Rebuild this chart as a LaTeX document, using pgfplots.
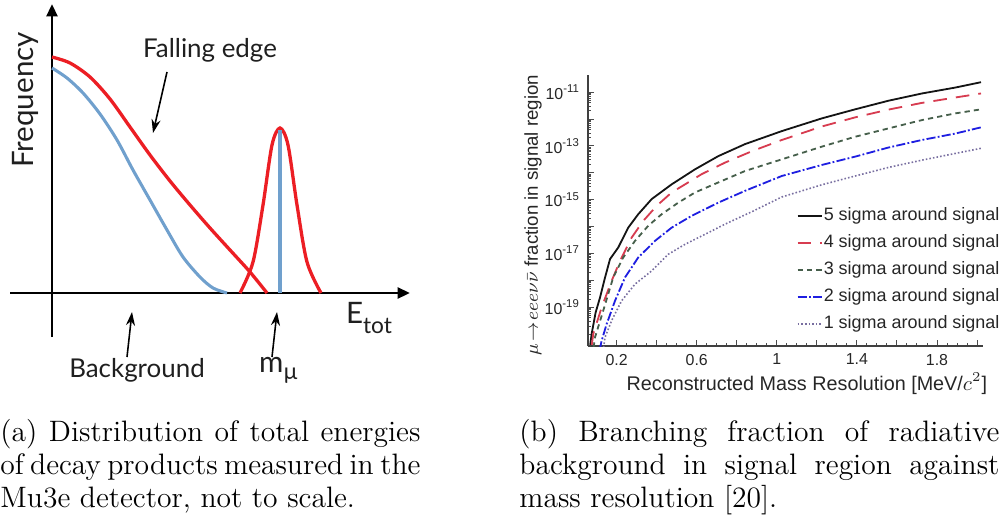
\documentclass[border=0pt]{standalone}
\usepackage{fontspec}
\newfontfamily\lato{Lato}
\newfontfamily\arial{Liberation Sans}
\usepackage{pgfplots}
\pgfplotsset{compat=1.18}
\usetikzlibrary{arrows.meta}
\definecolor{myred}{RGB}{236,30,36}
\definecolor{myblue}{RGB}{112,160,205}
\definecolor{c5}{RGB}{20,20,20}
\definecolor{c4}{RGB}{215,60,80}
\definecolor{c3}{RGB}{70,95,75}
\definecolor{c2}{RGB}{30,30,225}
\definecolor{c1}{RGB}{120,110,160}
\begin{document}
\begin{tikzpicture}
\useasboundingbox (0,0) rectangle (440.88pt,227.48pt);
% ---------------- panel (a) and captions, in pixel coordinates
\begin{axis}[at={(0,0)}, anchor=south west, scale only axis,
  width=440.88pt, height=227.48pt, xmin=0, xmax=1002, ymin=0, ymax=517,
  y dir=reverse, hide axis, clip=false]
\draw[line width=1.3pt, -{Triangle[length=5.5pt,width=4.8pt]}] (axis cs:52,337) -- (axis cs:52,4);
\draw[line width=1.3pt, -{Triangle[length=5.5pt,width=4.8pt]}] (axis cs:10,293) -- (axis cs:410,293);
\addplot[myred, line width=1.45pt, smooth] coordinates {(52,57) (70,63) (90,77) (110,99) (130,127) (150,155) (170,181) (190,205) (210,228) (230,250) (250,272) (267,293)};
\addplot[myred, line width=1.45pt, smooth] coordinates {(240,293) (253,262) (263,205) (272,145) (280,128) (288,145) (297,205) (307,262) (321,293)};
\addplot[myblue, line width=1.35pt, smooth] coordinates {(52,68) (67,78) (83,93) (100,114) (117,140) (133,170) (150,200) (167,230) (183,257) (200,277) (213,288) (227,293)};
\addplot[myblue, line width=1.35pt] coordinates {(280,293) (280,130)};
\node[rotate=90, font=\lato\fontsize{13}{15}\selectfont, text=black!88] at (axis cs:25,100) {Frequency};
\node[font=\lato\fontsize{11.4}{13}\selectfont, text=black!88] at (axis cs:210,50) {Falling edge};
\node[font=\lato\fontsize{11.4}{13}\selectfont, text=black!88] at (axis cs:137,370) {Background};
\node[font=\lato\fontsize{13}{15}\selectfont, text=black!88, anchor=base west] at (axis cs:338,323) {E\raisebox{-4.5pt}{\fontsize{10}{12}\selectfont tot}};
\node[font=\lato\fontsize{13}{15}\selectfont, text=black!88, anchor=base west] at (axis cs:251,372) {m\raisebox{-3.5pt}{\fontsize{10}{12}\selectfont µ}};
\draw[line width=0.7pt, -{Stealth[length=6pt,width=4pt]}] (axis cs:167,72) -- (axis cs:153,133);
\draw[line width=0.7pt, -{Stealth[length=6pt,width=4pt]}] (axis cs:127,357) -- (axis cs:132,312);
\draw[line width=0.7pt, -{Stealth[length=6pt,width=4pt]}] (axis cs:272,357) -- (axis cs:277,312);
\node[anchor=north west, inner sep=0pt, text width=184.8pt, align=justify,
  font=\fontsize{13}{14.5}\selectfont] at (axis cs:0,419)
  {(a) Distribution of total energies\linebreak of decay products measured in the\linebreak Mu3e detector, not to scale.};
\node[anchor=north west, inner sep=0pt, text width=211.2pt, align=justify,
  font=\fontsize{13}{14.5}\selectfont] at (axis cs:519,419)
  {(b) Branching fraction of radiative\linebreak background in signal region against\linebreak mass resolution [20].};
\end{axis}
% ---------------- panel (b)
\begin{axis}[at={(258.72pt,75.24pt)}, anchor=south west, scale only axis,
  width=173.8pt, height=119.2pt, ymode=log,
  xmin=0.057, xmax=2.03, ymin=3.6e-21, ymax=4.3e-11,
  axis lines*=left, tick align=inside, axis line style={black!75, line width=0.5pt},
  every tick/.style={black!70, line width=0.4pt},
  major tick length=2.6pt, minor tick length=1.4pt,
  xtick={0.2,0.4,...,2.0}, xticklabels={0.2,,0.6,,1,,1.4,,1.8,},
  minor x tick num=3,
  ytick={1e-20,1e-19,1e-18,1e-17,1e-16,1e-15,1e-14,1e-13,1e-12,1e-11},
  yticklabels={,10\textsuperscript{-19},,10\textsuperscript{-17},,10\textsuperscript{-15},,10\textsuperscript{-13},,10\textsuperscript{-11}},
  tick label style={font=\arial\fontsize{7}{8}\selectfont, text=black!85},
  label style={font=\arial\fontsize{8.2}{9}\selectfont, text=black!85},
  xlabel={Reconstructed Mass Resolution [MeV/$c^2$]},
  xlabel style={at={(axis description cs:0.554,-0.14)}, anchor=center, font=\arial\fontsize{8.7}{9}\selectfont},
  ylabel={$\mu\!\rightarrow\! eee\nu\bar{\nu}$ fraction in signal region},
  ylabel style={at={(axis description cs:-0.139,0.483)}, anchor=center},
  legend style={at={(0.51,0.536)}, anchor=north west, draw=none, fill=none,
    font=\arial\fontsize{7.9}{9}\selectfont, text=black!85, row sep=3.1pt,
    nodes={inner sep=0.6pt, text height=6pt, text depth=1.6pt}},
  legend cell align=left,
  legend image code/.code={\draw[#1] (0pt,0pt) -- (10.5pt,0pt);},
  clip=true]
\addplot[c5, line width=0.8pt] coordinates {(0.068,3.98e-21) (0.075,1.0e-20) (0.095,6.31e-20) (0.117,2.29e-19) (0.142,1.26e-18) (0.167,6.17e-18) (0.208,1.66e-17) (0.258,9.12e-17) (0.308,2.88e-16) (0.375,1.05e-15) (0.475,3.72e-15) (0.592,1.35e-14) (0.708,4.17e-14) (0.842,1.17e-13) (1.025,3.55e-13) (1.224,1.05e-12) (1.391,2.29e-12) (1.558,4.79e-12) (1.725,8.91e-12) (1.892,1.48e-11) (2.02,2.34e-11)};
\addlegendentry{5 sigma around signal}
\addplot[c4, line width=0.8pt, dash pattern=on 6pt off 4pt] coordinates {(0.076,3.98e-21) (0.083,1.0e-20) (0.125,9.77e-20) (0.175,9.55e-19) (0.217,5.25e-18) (0.275,3.89e-17) (0.333,1.62e-16) (0.4,5.89e-16) (0.475,1.86e-15) (0.542,3.72e-15) (0.625,8.91e-15) (0.742,2.40e-14) (0.875,6.31e-14) (1.025,1.66e-13) (1.224,5.25e-13) (1.391,1.15e-12) (1.558,2.24e-12) (1.725,3.98e-12) (1.892,6.31e-12) (2.02,8.91e-12)};
\addlegendentry{4 sigma around signal}
\addplot[c3, line width=0.8pt, dash pattern=on 2.3pt off 1.8pt] coordinates {(0.085,3.16e-21) (0.092,7.59e-21) (0.133,7.41e-20) (0.183,1.29e-18) (0.233,7.08e-18) (0.292,2.95e-17) (0.358,1.07e-16) (0.425,2.88e-16) (0.508,7.76e-16) (0.592,1.86e-15) (0.708,4.37e-15) (0.842,1.17e-14) (1.025,3.16e-14) (1.224,9.33e-14) (1.391,2.19e-13) (1.558,4.47e-13) (1.725,9.12e-13) (1.892,1.62e-12) (2.02,2.29e-12)};
\addlegendentry{3 sigma around signal}
\addplot[c2, line width=0.8pt, dash pattern=on 4pt off 1pt on 0.8pt off 1pt] coordinates {(0.115,2.51e-21) (0.125,5.62e-21) (0.15,2.34e-20) (0.192,1.74e-19) (0.242,1.29e-18) (0.308,7.08e-18) (0.392,2.95e-17) (0.475,9.12e-17) (0.575,2.51e-16) (0.708,7.76e-16) (0.842,2.14e-15) (1.025,7.59e-15) (1.224,1.95e-14) (1.391,3.98e-14) (1.558,8.71e-14) (1.725,1.66e-13) (1.892,2.88e-13) (2.02,4.90e-13)};
\addlegendentry{2 sigma around signal}
\addplot[c1, line width=0.7pt, dash pattern=on 0.7pt off 0.9pt] coordinates {(0.135,3.16e-21) (0.142,7.59e-21) (0.175,3.16e-20) (0.225,1.74e-19) (0.292,7.24e-19) (0.375,2.24e-18) (0.458,9.33e-18) (0.542,2.19e-17) (0.625,4.47e-17) (0.742,1.23e-16) (0.875,3.55e-16) (1.025,1.26e-15) (1.224,3.55e-15) (1.391,7.59e-15) (1.558,1.58e-14) (1.725,2.95e-14) (1.892,5.25e-14) (2.02,8.13e-14)};
\addlegendentry{1 sigma around signal}
\end{axis}
\end{tikzpicture}
\end{document}
